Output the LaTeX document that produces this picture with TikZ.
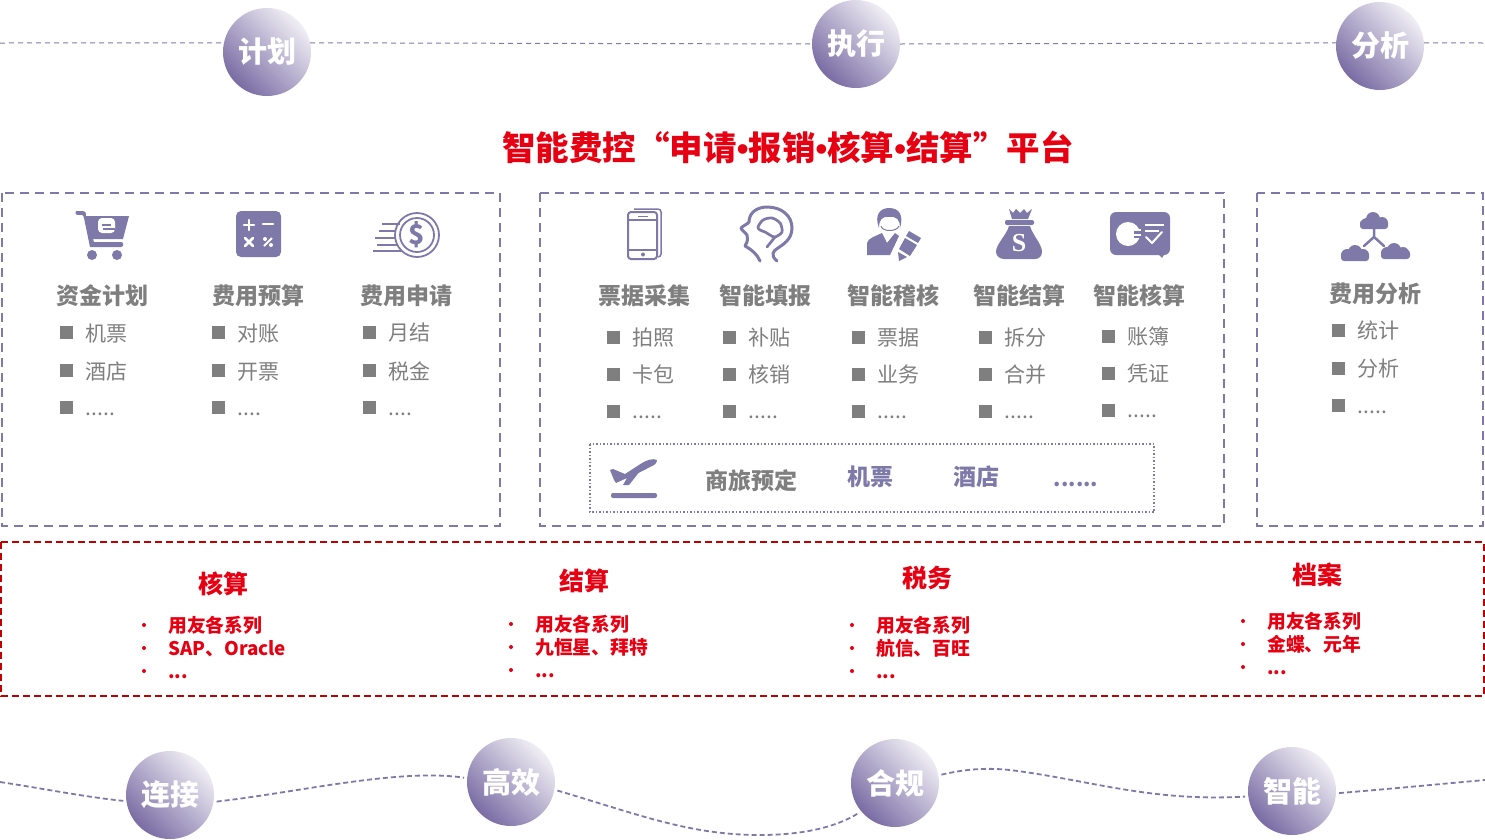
\documentclass[tikz,border=0pt]{standalone}
\usepackage{fontspec}
\usepackage{tikz}
\usetikzlibrary{positioning}
\setmainfont{Noto Sans CJK SC}
\newfontfamily\dotfont{Liberation Sans}
\newfontfamily\bagfont{Liberation Serif}
\newcommand{\titledot}{{\dotfont\textbullet}}
\definecolor{themepurple}{HTML}{7F79A9}
\definecolor{ballfrom}{HTML}{7A6CA4}
\definecolor{ballto}{HTML}{F0EFF5}
\definecolor{itemgray}{HTML}{7F7F7F}
\definecolor{themered}{HTML}{E60012}
\definecolor{framered}{HTML}{C00000}
\tikzset{
  ball/.style={circle, minimum size=88pt, inner sep=0pt, bottom color=ballfrom, top color=ballto, shading angle=-45, text=white, font=\fontsize{29}{29}\selectfont\bfseries},
  topline/.style={themepurple, line width=1pt, dash pattern=on 5pt off 4pt},
  waveline/.style={themepurple, line width=1.8pt, dash pattern=on 5pt off 3pt, shorten <=3pt, shorten >=3pt},
  groupbox/.style={themepurple, line width=1.7pt, dash pattern=on 9pt off 6pt},
  tripbox/.style={themepurple, line width=1.5pt, dotted},
  redbox/.style={framered, line width=1.5pt, dash pattern=on 7pt off 4pt},
  heading/.style={text=itemgray, inner sep=0pt, font=\fontsize{23}{23}\selectfont\bfseries},
  sqitem/.style={rectangle, fill=itemgray, minimum size=13pt, inner sep=0pt},
  itemtext/.style={anchor=base west, text=itemgray, inner sep=0pt, font=\fontsize{21}{21}\selectfont},
  redhead/.style={text=themered, inner sep=0pt, font=\fontsize{25}{25}\selectfont\bfseries},
  reddot/.style={circle, fill=themered, minimum size=4pt, inner sep=0pt},
  reditem/.style={anchor=base west, text=themered, inner sep=0pt, font=\fontsize{18.8}{19}\selectfont\bfseries},
  icon/.style={fill=themepurple, draw=none},
  iconline/.style={themepurple, line width=3pt, line cap=round, line join=round},
  cutline/.style={white, line width=2.6pt, line cap=round, line join=round},
}
\begin{document}
\begin{tikzpicture}[x=1pt, y=-1pt]
  \useasboundingbox (0,0) rectangle (1485,839);

  % top row
  \coordinate (topL) at (0,43);
  \coordinate (topR) at (1485,43);
  \node[ball] (plan) at (267,52) {计划};
  \node[ball] (exec) at (856,44) {执行};
  \node[ball] (anal) at (1380,46) {分析};
  \draw[topline] (topL) -- (plan.168);
  \draw[topline] (plan.12) -- (exec.180);
  \draw[topline] (exec.0) -- (anal.176);
  \draw[topline] (anal.4) -- (topR);

  \node[text=themered, inner sep=0pt, font=\fontsize{33.5}{33.5}\selectfont\bfseries] (title) at (788,147) {智能费控“申请\titledot 报销\titledot 核算\titledot 结算”平台};

  % frames
  \draw[groupbox] (2,193) rectangle (500,526);
  \draw[groupbox] (540,193) rectangle (1224,526);
  \draw[groupbox] (1257,193) rectangle (1483,526);
  \draw[tripbox] (590,444) rectangle (1154,512);
  \draw[redbox] (1,542) rectangle (1484,696);

  % cart
  \fill[icon] (76,211) -- (83,211) .. controls (85,211) and (86,212) .. (86,216) -- (129,216) -- (123,239) -- (93,239) -- (94,242) -- (121,242) .. controls (124,242) and (124,247) .. (121,247) -- (90,247) -- (84,218) .. controls (83,214) and (82,215) .. (78,215) .. controls (75,215) and (75,212) .. (76,211) -- cycle;
  \fill[icon] (92,255) circle (5);
  \fill[icon] (117,255) circle (5);
  \fill[white, rounded corners=4pt] (98,218) rectangle (115,233);
  \draw[themepurple, line width=1.5pt] (102,225) -- (111,225);
  \draw[themepurple, line width=1.2pt] (103,229) -- (115,229);

  % calculator
  \fill[icon, rounded corners=5pt] (236,211) rectangle (281,257);
  \draw[cutline] (244,225) -- (254,225) (249,220) -- (249,230);
  \draw[cutline] (263,224) -- (273,224);
  \draw[cutline] (245,238) -- (253,246) (253,238) -- (245,246);
  \draw[white, line width=1.8pt] (264,246) -- (272,238);
  \fill[white] (265,239) circle (2) (271,245) circle (2);

  % coin
  \draw[themepurple, line width=1.8pt] (417,235) circle (22);
  \draw[themepurple, line width=1.8pt] (417,235) circle (17);
  \node[text=themepurple, inner sep=0pt, font=\fontsize{27}{27}\selectfont\bfseries] (coinmark) at (417,235) {\$};
  \draw[themepurple, line width=1.5pt] (382,224) -- (400,224) (379,231) -- (395,231) (375,238) -- (395,238) (377,245) -- (397,245) (373,251) -- (402,251);

  % phone
  \draw[themepurple, line width=1.5pt, rounded corners=3pt] (634,209) -- (661,209) -- (661,257) -- (658,257);
  \fill[white, rounded corners=3pt] (627,211) rectangle (658,260);
  \draw[themepurple, line width=2pt, rounded corners=3pt] (628,212) rectangle (657,259);
  \draw[themepurple, line width=1.3pt] (628,220) -- (657,220) (628,250) -- (657,250);
  \draw[themepurple, line width=1pt] (638,216) -- (648,216);
  \fill[icon] (643,254.5) circle (2);

  % head
  \draw[iconline] (760,261) .. controls (757,254) and (752,250) .. (745,246) .. controls (748,241) and (748,238) .. (747,235) .. controls (745,232) and (741,230) .. (741,228) .. controls (744,225) and (748,224) .. (749,222) .. controls (749,212) and (758,207) .. (767,207) .. controls (782,207) and (792,216) .. (792,228) .. controls (792,240) and (782,245) .. (778,248) .. controls (773,251) and (770,255) .. (777,261);
  \draw[themepurple, line width=2.7pt, line join=round] plot[smooth cycle] coordinates {(758,227) (763,220) (772,218) (780,223) (782,232) (775,237) (770,235) (765,232) (760,230)};
  \draw[iconline, line width=2.7pt] (775,237) -- (767,247);

  % auditor
  \fill[icon] (879,228) .. controls (874,215) and (880,208) .. (889,208) .. controls (899,208) and (904,215) .. (900,228) .. controls (900,220) and (897,216) .. (889,217) .. controls (882,216) and (879,220) .. (879,228) -- cycle;
  \draw[themepurple, line width=1pt] (881,226) .. controls (882,232) and (897,232) .. (899,226);
  \fill[icon] (867,255) -- (867,243) .. controls (868,238) and (876,236) .. (882,233) -- (887,243) -- (895,233) -- (899,236) -- (890,255) -- cycle;
  \fill[icon] (909,231) -- (921,238) -- (918,243) -- (906,236) -- cycle;
  \fill[icon] (905,238) -- (917,245) -- (910,256) -- (899,249) -- cycle;
  \fill[icon] (898,252) -- (907,257) -- (899,261) -- cycle;

  % money bag
  \fill[icon] (1009,209) -- (1013,213) -- (1016,209) -- (1020,213) -- (1024,209) -- (1027,213) -- (1032,209) -- (1028,219) -- (1012,219) -- cycle;
  \fill[icon, rounded corners=2pt] (1005,220) rectangle (1034,225);
  \fill[icon] (1009,226) -- (1030,226) .. controls (1033,236) and (1042,244) .. (1042,252) .. controls (1042,256) and (1039,259) .. (1035,259) -- (1004,259) .. controls (1000,259) and (996,256) .. (996,252) .. controls (996,244) and (1006,236) .. (1009,226) -- cycle;
  \node[text=white, inner sep=0pt, font=\bagfont\fontsize{26}{26}\selectfont\bfseries] (bagmark) at (1019,243) {S};

  % speech box
  \fill[icon, rounded corners=6pt] (1110,212) rectangle (1170,255);
  \fill[icon] (1157,253) -- (1165,253) -- (1162,258) -- cycle;
  \fill[white] (1128,234) circle (12);
  \fill[icon] (1134,230) rectangle (1141,238);
  \draw[white, line width=1.6pt] (1133,230) -- (1141,230) (1133,235) -- (1141,235) (1145,225) -- (1164,225) (1145,231) -- (1159,231);
  \draw[cutline, line width=2pt] (1146,237) -- (1152,243) -- (1162,232);

  % clouds
  \draw[iconline, line width=2.5pt] (1374,229) -- (1374,237) -- (1364,246) (1374,237) -- (1384,246);
  \fill[icon, rounded corners=3pt] (1360,220) rectangle (1388,229);
  \fill[icon] (1373,219) circle (7) (1366,223) circle (5) (1382,223) circle (6);
  \fill[icon, rounded corners=3pt] (1341,252) rectangle (1369,261);
  \fill[icon] (1355,252) circle (7) (1347,255) circle (6) (1363,255) circle (6);
  \fill[icon, rounded corners=3pt] (1381,250) rectangle (1410,259);
  \fill[icon] (1394,250) circle (7) (1387,253) circle (6) (1403,253) circle (6);

  % first group
  \node[heading] (capital) at (102,296) {资金计划};
  \node[heading] (budget) at (258,296) {费用预算};
  \node[heading] (apply) at (406,296) {费用申请};
  \node[sqitem] (b11) at (66,332) {}; \node[itemtext] (t11) at (85.5,341) {机票};
  \node[sqitem] (b12) at (66,370) {}; \node[itemtext] (t12) at (85.5,379) {酒店};
  \node[sqitem] (b13) at (66,407) {}; \node[itemtext] (t13) at (85.5,415) {.....};
  \node[sqitem] (b21) at (218,332) {}; \node[itemtext] (t21) at (237.5,341) {对账};
  \node[sqitem] (b22) at (218,370) {}; \node[itemtext] (t22) at (237.5,379) {开票};
  \node[sqitem] (b23) at (218,407) {}; \node[itemtext] (t23) at (237.5,415) {....};
  \node[sqitem] (b31) at (369,332) {}; \node[itemtext] (t31) at (388.5,340) {月结};
  \node[sqitem] (b32) at (369,370) {}; \node[itemtext] (t32) at (388.5,379) {税金};
  \node[sqitem] (b33) at (369,407) {}; \node[itemtext] (t33) at (388.5,415) {....};

  % second group
  \node[heading] (collect) at (644,296) {票据采集};
  \node[heading] (fill) at (765,296) {智能填报};
  \node[heading] (audit) at (893,296) {智能稽核};
  \node[heading] (settle) at (1019,296) {智能结算};
  \node[heading] (account) at (1139,296) {智能核算};
  \node[sqitem] (b41) at (613,337) {}; \node[itemtext] (t41) at (632.5,345) {拍照};
  \node[sqitem] (b42) at (613,374) {}; \node[itemtext] (t42) at (632.5,382) {卡包};
  \node[sqitem] (b43) at (613,411) {}; \node[itemtext] (t43) at (632.5,418) {.....};
  \node[sqitem] (b51) at (729,337) {}; \node[itemtext] (t51) at (748.5,345) {补贴};
  \node[sqitem] (b52) at (729,374) {}; \node[itemtext] (t52) at (748.5,382) {核销};
  \node[sqitem] (b53) at (729,411) {}; \node[itemtext] (t53) at (748.5,418) {.....};
  \node[sqitem] (b61) at (858,337) {}; \node[itemtext] (t61) at (877.5,345) {票据};
  \node[sqitem] (b62) at (858,374) {}; \node[itemtext] (t62) at (877.5,382) {业务};
  \node[sqitem] (b63) at (858,411) {}; \node[itemtext] (t63) at (877.5,418) {.....};
  \node[sqitem] (b71) at (985,337) {}; \node[itemtext] (t71) at (1004.5,345) {拆分};
  \node[sqitem] (b72) at (985,374) {}; \node[itemtext] (t72) at (1004.5,382) {合并};
  \node[sqitem] (b73) at (985,411) {}; \node[itemtext] (t73) at (1004.5,418) {.....};
  \node[sqitem] (b81) at (1108,336) {}; \node[itemtext] (t81) at (1127.5,344) {账簿};
  \node[sqitem] (b82) at (1108,373) {}; \node[itemtext] (t82) at (1127.5,381) {凭证};
  \node[sqitem] (b83) at (1108,410) {}; \node[itemtext] (t83) at (1127.5,417) {.....};

  % business trip
  \fill[icon] (610,470) -- (613,469) -- (625,474) -- (642,463) .. controls (647,460) and (653,458) .. (657,460) .. controls (657,462) and (656,464) .. (654,465) -- (638.5,473) -- (629,485) -- (623,485) -- (627,478) -- (616,483) -- (614,480) -- cycle;
  \fill[icon, rounded corners=2pt] (611,493) rectangle (657,498);
  \node[heading] (trip) at (751,481) {商旅预定};
  \node[heading, text=themepurple] (ticket) at (870,477) {机票};
  \node[heading, text=themepurple] (hotel) at (976,477) {酒店};
  \node[heading, text=themepurple, anchor=base, font=\fontsize{21}{21}\selectfont\bfseries] (moretrip) at (1076,486) {......};

  % third group
  \node[heading] (analysis) at (1375,294) {费用分析};
  \node[sqitem] (b91) at (1338,330) {}; \node[itemtext] (t91) at (1357.5,338) {统计};
  \node[sqitem] (b92) at (1338,368) {}; \node[itemtext] (t92) at (1357.5,376) {分析};
  \node[sqitem] (b93) at (1338,405) {}; \node[itemtext] (t93) at (1357.5,413) {.....};

  % red band
  \node[redhead] (hesuan) at (223,584) {核算};
  \node[redhead] (jiesuan) at (584,581) {结算};
  \node[redhead] (shuiwu) at (927,578) {税务};
  \node[redhead] (dangan) at (1317,575) {档案};
  \node[reddot] (r11) at (144,625) {}; \node[reditem] (s11) at (168,632) {用友各系列};
  \node[reddot] (r12) at (144,648) {}; \node[reditem] (s12) at (168,655) {SAP、Oracle};
  \node[reddot] (r13) at (144,671) {}; \node[reditem] (s13) at (168,678) {...};
  \node[reddot] (r21) at (511,624) {}; \node[reditem] (s21) at (535,631) {用友各系列};
  \node[reddot] (r22) at (511,647) {}; \node[reditem] (s22) at (535,654) {九恒星、拜特};
  \node[reddot] (r23) at (511,670) {}; \node[reditem] (s23) at (535,677) {...};
  \node[reddot] (r31) at (852,625) {}; \node[reditem] (s31) at (876,632) {用友各系列};
  \node[reddot] (r32) at (852,648) {}; \node[reditem] (s32) at (876,655) {航信、百旺};
  \node[reddot] (r33) at (852,671) {}; \node[reditem] (s33) at (876,678) {...};
  \node[reddot] (r41) at (1243,621) {}; \node[reditem] (s41) at (1267,628) {用友各系列};
  \node[reddot] (r42) at (1243,644) {}; \node[reditem] (s42) at (1267,651) {金蝶、元年};
  \node[reddot] (r43) at (1243,667) {}; \node[reditem] (s43) at (1267,674) {...};

  % bottom row
  \coordinate (waveL) at (0,782);
  \coordinate (waveR) at (1485,780);
  \node[ball] (link) at (170,795) {连接};
  \node[ball] (quick) at (511,782) {高效};
  \node[ball] (comply) at (895,783) {合规};
  \node[ball] (smart) at (1292,791) {智能};
  \draw[waveline, shorten <=0pt] (waveL) .. controls (40,788) and (85,797) .. (link.188);
  \draw[waveline] (link.-9) .. controls (300,792) and (400,768) .. (quick.175);
  \draw[waveline] (quick.-10) .. controls (640,815) and (690,835) .. (760,835) .. controls (800,835) and (835,828) .. (comply.220);
  \draw[waveline] (comply.10) .. controls (970,768) and (990,768) .. (1010,770) .. controls (1090,780) and (1150,802) .. (smart.187);
  \draw[waveline, shorten >=0pt] (smart.-3) .. controls (1400,788) and (1440,784) .. (waveR);
\end{tikzpicture}
\end{document}
